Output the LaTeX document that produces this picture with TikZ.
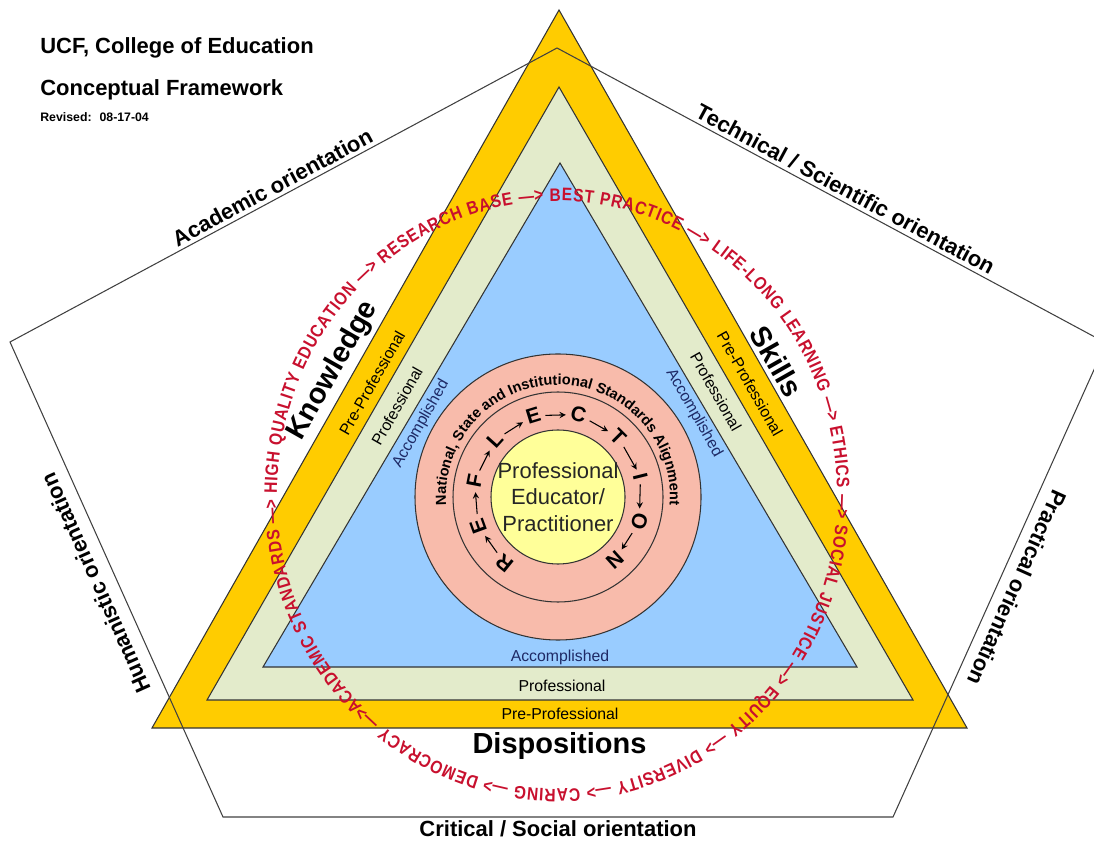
\documentclass[tikz,border=0pt]{standalone}
\usepackage{fontspec}
\setmainfont{Liberation Sans}
\newfontfamily\ringfont[Ligatures=TeX, FakeStretch=0.86]{Liberation Sans}
\usepackage{xcolor}
\definecolor{xgold}{HTML}{FFCC00}
\definecolor{xsage}{HTML}{E3EBCB}
\definecolor{xsky}{HTML}{99CCFF}
\definecolor{xsalmon}{HTML}{F8BBAB}
\definecolor{xlemon}{HTML}{FFFF99}
\definecolor{xcrimson}{HTML}{C8102E}
\definecolor{xnavy}{HTML}{1E2A66}
\usepackage{tikz}
\usetikzlibrary{calc, decorations.text}
\tikzset{
  %% Styles %%
  layer/.style = {draw=black!80, line width=0.6pt, fill=#1},
  outline/.style = {draw=black!75, line width=0.6pt},
  orient/.style = {font=\fontsize{12.5}{14}\selectfont\bfseries, inner sep=2pt},
  facet/.style = {font=\fontsize{16.5}{18}\selectfont\bfseries, inner sep=2.5pt},
  band/.style = {font=\fontsize{9}{10}\selectfont, inner sep=0pt, text=#1},
  band/.default = black,
  letter/.style = {font=\fontsize{12}{13}\selectfont\bfseries, inner sep=1pt},
  flow/.style = {-stealth, line width=0.6pt, shorten <=1.5pt, shorten >=1.5pt},
  heading/.style = {font=\fontsize{12.5}{14}\selectfont\bfseries, anchor=west, inner sep=0pt},
}

\begin{document}
\begin{tikzpicture}[x=0.02cm, y=0.02cm]
  \useasboundingbox (0,0) rectangle (1094,845);

  % Nested triangles
  \coordinate (gT) at (559,835);
  \coordinate (gL) at (152,117);
  \coordinate (gR) at (967,117);
  \draw[layer=xgold] (gL) -- node[facet, sloped, above, pos=.485] (know) {Knowledge}
    (gT) -- node[facet, sloped, above, pos=.5] (skill) {Skills}
    (gR) -- node[facet, below, midway] (disp) {Dispositions} (gL) -- cycle;
  \draw[layer=xsage] (559,758) -- (207,145) -- (913,145) -- cycle;
  \draw[layer=xsky] (560,682) -- (263,178) -- (857,178) -- cycle;

  \node[band, rotate=60.45] (preL) at (372,462) {Pre-Professional};
  \node[band, rotate=60.45] (proL) at (397,439) {Professional};
  \node[band=xnavy, rotate=60.45] (accL) at (421,421) {Accomplished};
  \node[band, rotate=-60.45] (preR) at (750,461) {Pre-Professional};
  \node[band, rotate=-60.45] (proR) at (716,453) {Professional};
  \node[band=xnavy, rotate=-60.45] (accR) at (694,432) {Accomplished};
  \node[band] (preB) at (560,131) {Pre-Professional};
  \node[band] (proB) at (562,159) {Professional};
  \node[band=xnavy] (accB) at (560,188) {Accomplished};

  % Circles in the middle
  \coordinate (hub) at (558,348);
  \draw[layer=xsalmon] (hub) circle[radius=143];
  \draw[black!80, line width=0.6pt] (hub) circle[radius=105];
  \draw[layer=xlemon] (hub) circle[radius=67];
  \node[align=center, font=\fontsize{12.5}{15}\selectfont, text=black!85] (pep) at (hub)
    {Professional\\Educator/\\Practitioner};
  \path[decorate, decoration={text along path, text align=center,
      text={|\fontsize{8.3}{9}\selectfont\bfseries|National, State and Institutional Standards Alignment}}]
    ([shift={(hub)}]188:112) arc[start angle=188, end angle=-8, radius=112];

  \foreach \ch [count=\i from 0] in {R,E,F,L,E,C,T,I,O,N}
    \node[letter, rotate={141-31*\i}] (ltr\i) at ([shift={(hub)}]{231-31*\i}:85) {\ch};
  \foreach \i [evaluate=\i as \j using int(\i+1)] in {0,...,8}
    \draw[flow] (ltr\i) -- (ltr\j);

  % Values around the triangle
  \coordinate (ring) at (557,350);
  \path[decorate, decoration={text along path, text align={fit to path},
      text={|\ringfont\fontsize{10.3}{11}\selectfont\bfseries\color{xcrimson}|ACADEMIC STANDARDS {--->} HIGH QUALITY EDUCATION {--->} RESEARCH BASE {--->} BEST PRACTICE {--->} LIFE-LONG LEARNING {--->} ETHICS {--->} SOCIAL JUSTICE {--->} EQUITY {--->} DIVERSITY {--->} CARING {--->} DEMOCRACY {--->}}}]
    ([shift={(ring)}]226:280 and 294) arc[start angle=226, end angle=-134, x radius=280, y radius=294];

  % Orientations
  \coordinate (pT) at (557,797);
  \coordinate (pR) at (1106,502);
  \coordinate (pBR) at (893,28);
  \coordinate (pBL) at (223,28);
  \coordinate (pL) at (10,503);
  \draw[outline] (pL) -- node[orient, sloped, above, pos=.49] (acad) {Academic orientation}
    (pT) -- node[orient, sloped, above, pos=.515] (tech) {Technical / Scientific orientation}
    (pR) -- node[orient, sloped, allow upside down, above=4pt, pos=.5] (prac) {Practical orientation}
    (pBR) -- node[orient, below, midway] (crit) {Critical / Social orientation}
    (pBL) -- node[orient, sloped, allow upside down, above=5pt, pos=.51] (human) {Humanistic orientation}
    (pL) -- cycle;

  \node[heading] (ucf) at (40,797) {UCF, College of Education};
  \node[heading] (cf) at (40,755) {Conceptual Framework};
  \node[heading, font=\fontsize{7}{8}\selectfont\bfseries] (rev) at (40,728) {Revised:~ 08-17-04};
\end{tikzpicture}
\end{document}
